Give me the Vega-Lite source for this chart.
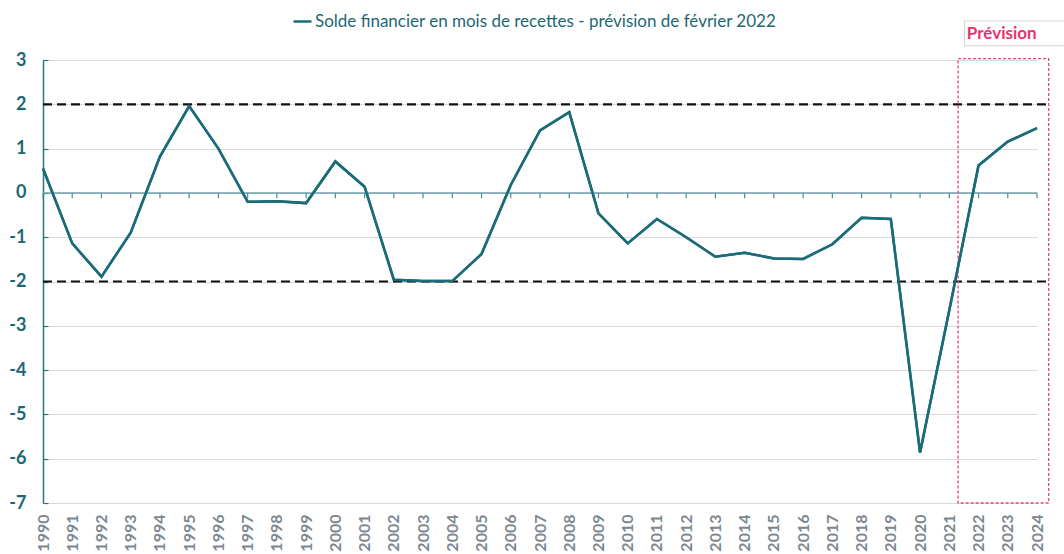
{
  "$schema": "https://vega.github.io/schema/vega-lite/v6.json",
  "width": 994,
  "height": 443,
  "autosize": {"type": "none"},
  "padding": {"left": 43, "top": 60, "right": 27, "bottom": 51},
  "background": "white",
  "config": {
    "view": {"stroke": null},
    "font": "Lato",
    "axisX": {
      "labelAngle": -90, "labelFont": "Lato", "labelFontSize": 16, "labelFontWeight": "bold",
      "labelColor": "#7d8790", "labelPadding": 11, "ticks": false, "domain": false, "grid": false,
      "labelFlush": false, "labelOverlap": false
    },
    "axisY": {
      "labelFont": "Lato", "labelFontSize": 18, "labelFontWeight": "bold", "labelColor": "#1d6775",
      "labelPadding": 22, "domainColor": "#2b7380", "domainWidth": 1.5,
      "tickColor": "#2b7380", "tickSize": -5, "tickWidth": 1.2,
      "gridColor": "#d9d9d9", "gridWidth": 1.2, "labelOverlap": false
    }
  },
  "datasets": {
    "serie": [
      {"annee": 1990, "valeur": 0.55, "serie": "Solde financier en mois de recettes - prévision de février 2022"},
      {"annee": 1991, "valeur": -1.14, "serie": "Solde financier en mois de recettes - prévision de février 2022"},
      {"annee": 1992, "valeur": -1.89, "serie": "Solde financier en mois de recettes - prévision de février 2022"},
      {"annee": 1993, "valeur": -0.9, "serie": "Solde financier en mois de recettes - prévision de février 2022"},
      {"annee": 1994, "valeur": 0.82, "serie": "Solde financier en mois de recettes - prévision de février 2022"},
      {"annee": 1995, "valeur": 1.96, "serie": "Solde financier en mois de recettes - prévision de février 2022"},
      {"annee": 1996, "valeur": 1.0, "serie": "Solde financier en mois de recettes - prévision de février 2022"},
      {"annee": 1997, "valeur": -0.2, "serie": "Solde financier en mois de recettes - prévision de février 2022"},
      {"annee": 1998, "valeur": -0.19, "serie": "Solde financier en mois de recettes - prévision de février 2022"},
      {"annee": 1999, "valeur": -0.23, "serie": "Solde financier en mois de recettes - prévision de février 2022"},
      {"annee": 2000, "valeur": 0.71, "serie": "Solde financier en mois de recettes - prévision de février 2022"},
      {"annee": 2001, "valeur": 0.14, "serie": "Solde financier en mois de recettes - prévision de février 2022"},
      {"annee": 2002, "valeur": -1.96, "serie": "Solde financier en mois de recettes - prévision de février 2022"},
      {"annee": 2003, "valeur": -1.99, "serie": "Solde financier en mois de recettes - prévision de février 2022"},
      {"annee": 2004, "valeur": -1.99, "serie": "Solde financier en mois de recettes - prévision de février 2022"},
      {"annee": 2005, "valeur": -1.38, "serie": "Solde financier en mois de recettes - prévision de février 2022"},
      {"annee": 2006, "valeur": 0.18, "serie": "Solde financier en mois de recettes - prévision de février 2022"},
      {"annee": 2007, "valeur": 1.41, "serie": "Solde financier en mois de recettes - prévision de février 2022"},
      {"annee": 2008, "valeur": 1.82, "serie": "Solde financier en mois de recettes - prévision de février 2022"},
      {"annee": 2009, "valeur": -0.46, "serie": "Solde financier en mois de recettes - prévision de février 2022"},
      {"annee": 2010, "valeur": -1.14, "serie": "Solde financier en mois de recettes - prévision de février 2022"},
      {"annee": 2011, "valeur": -0.59, "serie": "Solde financier en mois de recettes - prévision de février 2022"},
      {"annee": 2012, "valeur": -1.0, "serie": "Solde financier en mois de recettes - prévision de février 2022"},
      {"annee": 2013, "valeur": -1.44, "serie": "Solde financier en mois de recettes - prévision de février 2022"},
      {"annee": 2014, "valeur": -1.35, "serie": "Solde financier en mois de recettes - prévision de février 2022"},
      {"annee": 2015, "valeur": -1.48, "serie": "Solde financier en mois de recettes - prévision de février 2022"},
      {"annee": 2016, "valeur": -1.49, "serie": "Solde financier en mois de recettes - prévision de février 2022"},
      {"annee": 2017, "valeur": -1.16, "serie": "Solde financier en mois de recettes - prévision de février 2022"},
      {"annee": 2018, "valeur": -0.56, "serie": "Solde financier en mois de recettes - prévision de février 2022"},
      {"annee": 2019, "valeur": -0.59, "serie": "Solde financier en mois de recettes - prévision de février 2022"},
      {"annee": 2020, "valeur": -5.86, "serie": "Solde financier en mois de recettes - prévision de février 2022"},
      {"annee": 2021, "valeur": -2.65, "serie": "Solde financier en mois de recettes - prévision de février 2022"},
      {"annee": 2022, "valeur": 0.62, "serie": "Solde financier en mois de recettes - prévision de février 2022"},
      {"annee": 2023, "valeur": 1.16, "serie": "Solde financier en mois de recettes - prévision de février 2022"},
      {"annee": 2024, "valeur": 1.46, "serie": "Solde financier en mois de recettes - prévision de février 2022"}
    ],
    "seuils": [{"seuil": 2}, {"seuil": -2}],
    "un": [{}]
  },
  "layer": [
    {
      "data": {"name": "serie"},
      "mark": {"type": "line", "strokeWidth": 2.5, "strokeJoin": "miter"},
      "encoding": {
        "x": {
          "field": "annee", "type": "quantitative",
          "scale": {"domain": [1990, 2024], "nice": false, "zero": false},
          "axis": {"title": null, "tickCount": 60, "format": "d", "labelOverlap": false,
            "values": [1990,1991,1992,1993,1994,1995,1996,1997,1998,1999,2000,2001,2002,2003,2004,2005,2006,2007,2008,2009,2010,2011,2012,2013,2014,2015,2016,2017,2018,2019,2020,2021,2022,2023,2024]}
        },
        "y": {
          "field": "valeur", "type": "quantitative",
          "scale": {"domain": [-7, 3], "nice": false, "zero": false},
          "axis": {"title": null, "tickCount": 20, "labelOverlap": false,
            "values": [-7,-6,-5,-4,-3,-2,-1,0,1,2,3], "labelExpr": "toString(datum.value)"}
        },
        "color": {
          "field": "serie", "type": "nominal",
          "scale": {"range": ["#1b6b78"]},
          "legend": {
            "title": null, "orient": "none", "legendX": 249, "legendY": -49, "padding": 0,
            "symbolType": "stroke", "symbolSize": 324, "symbolStrokeWidth": 2.5, "labelOffset": 2,
            "labelFont": "Lato", "labelFontSize": 17, "labelColor": "#1d6775", "labelLimit": 0
          }
        }
      }
    },
    {
      "data": {"name": "un"},
      "mark": {"type": "rule", "stroke": "#6fa2ab", "strokeWidth": 1.5},
      "encoding": {"y": {"datum": 0}, "x": {"datum": 1990}, "x2": {"datum": 2024}}
    },
    {
      "data": {"name": "serie"},
      "mark": {"type": "rule", "stroke": "#4f8b95", "strokeWidth": 1.2},
      "encoding": {"x": {"field": "annee", "type": "quantitative"}, "y": {"datum": 0}, "y2": {"datum": -0.12}}
    },
    {
      "data": {"name": "seuils"},
      "mark": {"type": "rule", "stroke": "#111111", "strokeWidth": 2.2, "strokeDash": [9, 5]},
      "encoding": {"y": {"field": "seuil", "type": "quantitative"}, "x": {"datum": 1990}, "x2": {"datum": 2024.33}}
    },
    {
      "data": {"name": "un"},
      "mark": {"type": "rect", "fillOpacity": 0, "fill": "white", "stroke": "#e0457c", "strokeWidth": 1.3, "strokeDash": [3, 2]},
      "encoding": {"x": {"datum": 2021.3}, "x2": {"datum": 2024.4}, "y": {"datum": -7}, "y2": {"datum": 3.03}}
    },
    {
      "data": {"name": "un"},
      "mark": {"type": "rect", "fill": "white", "stroke": "#d4d4d4", "strokeWidth": 1},
      "encoding": {"x": {"datum": 2021.52}, "x2": {"datum": 2025.2}, "y": {"datum": 3.32}, "y2": {"datum": 3.88}}
    },
    {
      "data": {"name": "un"},
      "mark": {"type": "text", "text": "Prévision", "font": "Lato", "fontSize": 17, "fontWeight": "bold", "color": "#e8336e", "align": "left", "baseline": "middle"},
      "encoding": {"x": {"datum": 2021.6}, "y": {"datum": 3.58}}
    },
    {
      "data": {"name": "serie"},
      "mark": {"type": "line", "strokeWidth": 2.5, "strokeJoin": "miter", "color": "#1b6b78"},
      "encoding": {
        "x": {"field": "annee", "type": "quantitative"},
        "y": {"field": "valeur", "type": "quantitative"}
      }
    }
  ]
}
